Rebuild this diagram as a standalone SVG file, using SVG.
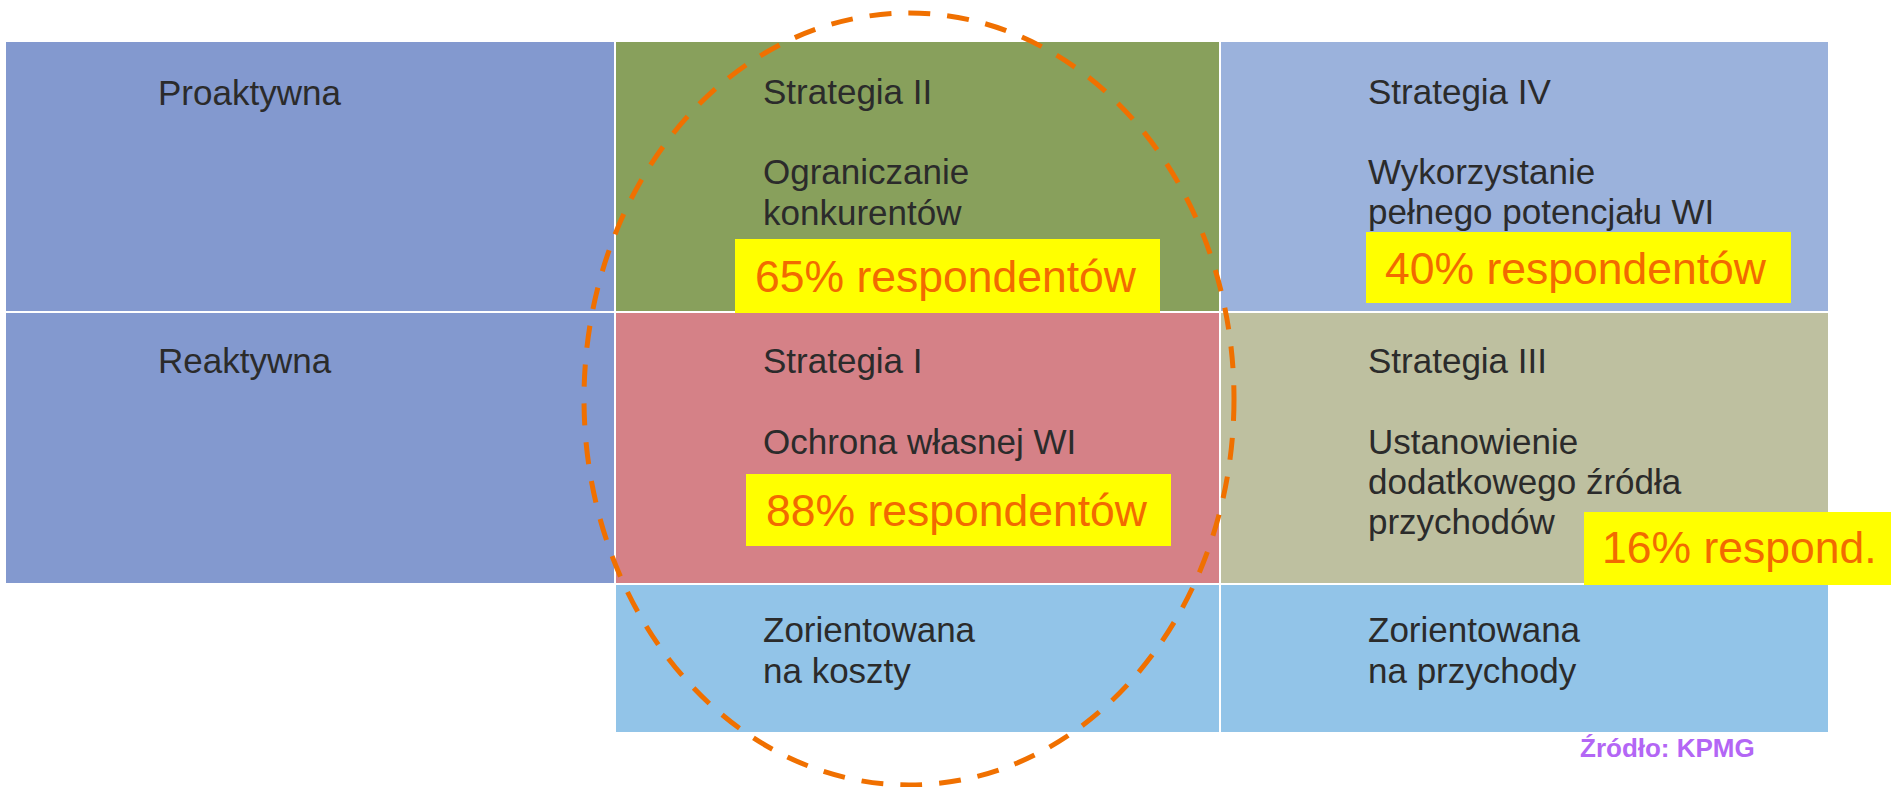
<svg xmlns="http://www.w3.org/2000/svg" width="1891" height="787" viewBox="0 0 1891 787">
<style>
.t{font-family:"Liberation Sans",Arial,sans-serif;font-size:35px;fill:#2b2b2b}
.p{font-family:"Liberation Sans",Arial,sans-serif;font-size:44.5px;fill:#f26a00}
.y{fill:#ffff00}
.src{font-family:"Liberation Sans",Arial,sans-serif;font-size:26px;font-weight:bold;fill:#b366f5}
</style>
<rect width="1891" height="787" fill="#ffffff"/>
<g id="row-proaktywna">
<rect x="6" y="42" width="608" height="269" fill="#8399cf"/>
<text class="t" x="158" y="105">Proaktywna</text>
</g>
<g id="row-reaktywna">
<rect x="6" y="313" width="608" height="270" fill="#8399cf"/>
<text class="t" x="158" y="373">Reaktywna</text>
</g>
<g id="strategia-2">
<rect x="616" y="42" width="603" height="269" fill="#88a05c"/>
<text class="t" x="763" y="104">Strategia II</text>
<text class="t" x="763" y="184">Ograniczanie</text>
<text class="t" x="763" y="225">konkurentów</text>
<rect class="y" x="735" y="239" width="425" height="74"/>
<text class="p" x="755" y="292">65% respondentów</text>
</g>
<g id="strategia-4">
<rect x="1221" y="42" width="607" height="269" fill="#9bb2dc"/>
<text class="t" x="1368" y="104">Strategia IV</text>
<text class="t" x="1368" y="184">Wykorzystanie</text>
<text class="t" x="1368" y="224">pełnego potencjału WI</text>
<rect class="y" x="1366" y="232" width="425" height="71"/>
<text class="p" x="1385" y="284">40% respondentów</text>
</g>
<g id="strategia-1">
<rect x="616" y="313" width="603" height="270" fill="#d58187"/>
<text class="t" x="763" y="373">Strategia I</text>
<text class="t" x="763" y="454">Ochrona własnej WI</text>
<rect class="y" x="746" y="474" width="425" height="72"/>
<text class="p" x="766" y="526">88% respondentów</text>
</g>
<g id="strategia-3">
<rect x="1221" y="313" width="607" height="270" fill="#bec0a0"/>
<text class="t" x="1368" y="373">Strategia III</text>
<text class="t" x="1368" y="454">Ustanowienie</text>
<text class="t" x="1368" y="494">dodatkowego źródła</text>
<text class="t" x="1368" y="534">przychodów</text>
</g>
<g id="koszty">
<rect x="616" y="585" width="603" height="147" fill="#92c4e8"/>
<text class="t" x="763" y="642">Zorientowana</text>
<text class="t" x="763" y="683">na koszty</text>
</g>
<g id="przychody">
<rect x="1221" y="585" width="607" height="147" fill="#92c4e8"/>
<text class="t" x="1368" y="642">Zorientowana</text>
<text class="t" x="1368" y="683">na przychody</text>
</g>
<g id="badge-16">
<rect class="y" x="1584" y="512" width="307" height="73"/>
<text class="p" x="1602" y="563">16% respond.</text>
</g>
<g id="connectors">
<ellipse cx="909" cy="399" rx="325" ry="386" fill="none" stroke="#f07000" stroke-width="5" stroke-dasharray="22 17"/>
</g>
<g id="source">
<text class="src" x="1580" y="757">Źródło: KPMG</text>
</g>
</svg>
